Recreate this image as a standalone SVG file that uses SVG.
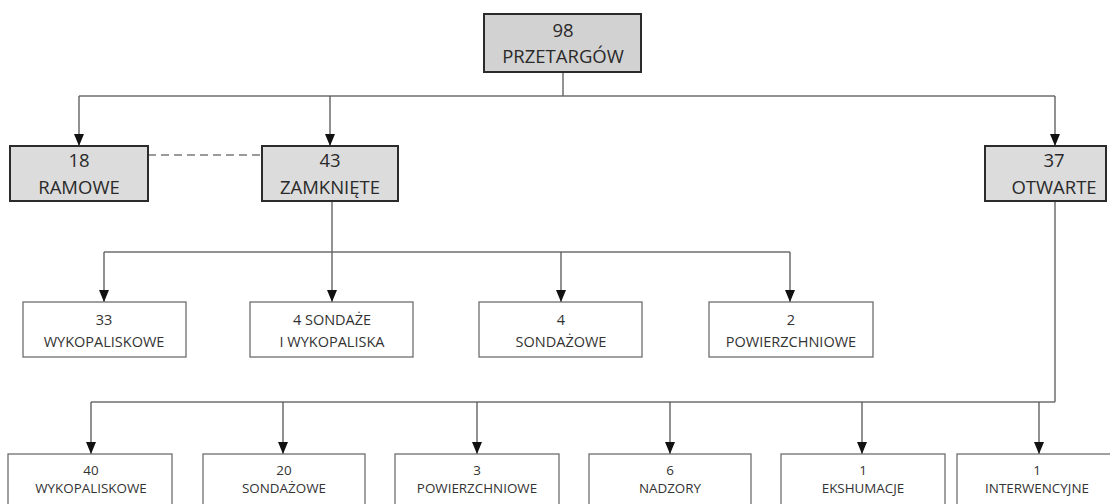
<svg xmlns="http://www.w3.org/2000/svg" width="1110" height="504" viewBox="0 0 1110 504">
<defs>
<marker id="arr" viewBox="0 0 12 10" markerWidth="12" markerHeight="10" refX="12" refY="5" orient="auto" markerUnits="userSpaceOnUse">
<path d="M0,0 L12,5 L0,10 Z" fill="#111"/>
</marker>
<style>
.main rect{fill:#dcdcdc;stroke:#2b2b2b;stroke-width:2}
.top rect{fill:#d2d2d2}
.sub rect{fill:#ffffff;stroke:#6e6e6e;stroke-width:1.3}
text{font-family:"Open Sans","Liberation Sans",sans-serif;text-anchor:middle}
.main text{font-size:18.5px;fill:#2a2a2a}
.sub text{font-size:14.5px;fill:#333}
.low text{font-size:13.4px}
.ln{fill:none;stroke:#6f6f6f;stroke-width:1.5}
.ar{fill:none;stroke:#555;stroke-width:1.3;marker-end:url(#arr)}
.dash{fill:none;stroke:#9a9a9a;stroke-width:2;stroke-dasharray:8 5}
</style>
</defs>
<rect width="1110" height="504" fill="#ffffff"/>

<g id="connectors">
<path class="ln" d="M563,72 V96 M79,96 H1055"/>
<path class="ar" d="M79,96 V146"/>
<path class="ar" d="M330,96 V146"/>
<path class="ar" d="M1055,96 V146"/>
<path class="dash" d="M148,155 H262"/>
<path class="ln" d="M332,201 V252 M104,252 H790"/>
<path class="ar" d="M104,252 V302"/>
<path class="ar" d="M332,252 V302"/>
<path class="ar" d="M561,252 V302"/>
<path class="ar" d="M790,252 V302"/>
<path class="ln" d="M1055,201 V402 M91,402 H1055"/>
<path class="ar" d="M91,402 V454"/>
<path class="ar" d="M283,402 V454"/>
<path class="ar" d="M477,402 V454"/>
<path class="ar" d="M670,402 V454"/>
<path class="ar" d="M862,402 V454"/>
<path class="ar" d="M1039,402 V454"/>
</g>

<g id="n-przetargow" class="main top">
<rect x="484" y="14" width="157" height="58"/>
<text x="563" y="37">98</text>
<text x="563" y="63">PRZETARGÓW</text>
</g>
<g id="n-ramowe" class="main">
<rect x="10" y="146" width="138" height="55"/>
<text x="79" y="167">18</text>
<text x="79" y="194">RAMOWE</text>
</g>
<g id="n-zamkniete" class="main">
<rect x="262" y="146" width="136" height="55"/>
<text x="330" y="167">43</text>
<text x="330" y="194">ZAMKNIĘTE</text>
</g>
<g id="n-otwarte" class="main">
<rect x="985" y="146" width="121" height="55"/>
<text x="1054" y="167">37</text>
<text x="1054" y="194">OTWARTE</text>
</g>

<g id="n-z-wykopaliskowe" class="sub">
<rect x="23" y="302" width="163" height="55"/>
<text x="104" y="325">33</text>
<text x="104" y="347">WYKOPALISKOWE</text>
</g>
<g id="n-z-sondaze-wykopaliska" class="sub">
<rect x="250" y="302" width="163" height="55"/>
<text x="332" y="325">4 SONDAŻE</text>
<text x="332" y="347">I WYKOPALISKA</text>
</g>
<g id="n-z-sondazowe" class="sub">
<rect x="479" y="302" width="163" height="55"/>
<text x="561" y="325">4</text>
<text x="561" y="347">SONDAŻOWE</text>
</g>
<g id="n-z-powierzchniowe" class="sub">
<rect x="709" y="302" width="164" height="55"/>
<text x="791" y="325">2</text>
<text x="791" y="347">POWIERZCHNIOWE</text>
</g>

<g id="n-o-wykopaliskowe" class="sub low">
<rect x="8" y="454" width="164" height="60"/>
<text x="91" y="475">40</text>
<text x="91" y="493">WYKOPALISKOWE</text>
</g>
<g id="n-o-sondazowe" class="sub low">
<rect x="203" y="454" width="162" height="60"/>
<text x="284" y="475">20</text>
<text x="284" y="493">SONDAŻOWE</text>
</g>
<g id="n-o-powierzchniowe" class="sub low">
<rect x="395" y="454" width="164" height="60"/>
<text x="477" y="475">3</text>
<text x="477" y="493">POWIERZCHNIOWE</text>
</g>
<g id="n-o-nadzory" class="sub low">
<rect x="589" y="454" width="162" height="60"/>
<text x="670" y="475">6</text>
<text x="670" y="493">NADZORY</text>
</g>
<g id="n-o-ekshumacje" class="sub low">
<rect x="781" y="454" width="164" height="60"/>
<text x="863" y="475">1</text>
<text x="863" y="493">EKSHUMACJE</text>
</g>
<g id="n-o-interwencyjne" class="sub low">
<rect x="957" y="454" width="160" height="60"/>
<text x="1037" y="475">1</text>
<text x="1037" y="493">INTERWENCYJNE</text>
</g>
</svg>
